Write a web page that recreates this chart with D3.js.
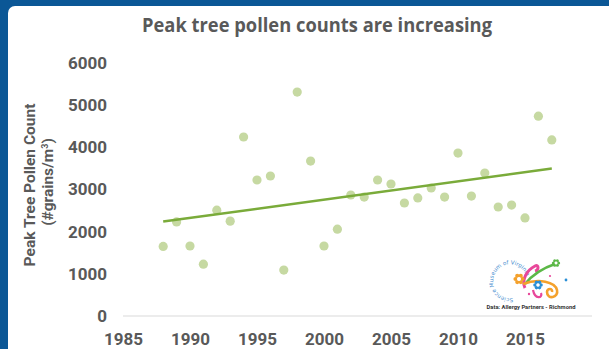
<!DOCTYPE html>
<html lang='en'>
	<head>
		<meta charset='utf-8'>
		<title>Peak tree pollen counts</title>
		<script type='text/javascript' src='https://cdn.jsdelivr.net/npm/d3@7'></script>
		<style>
			body { margin:0; background:#0b5796; overflow:hidden; }
		</style>
	</head>
	<body>
	</body>
	<script type='text/javascript'>
	// data
	var years = [1988,1989,1990,1991,1992,1993,1994,1995,1996,1997,1998,1999,2000,2001,2002,
				 2003,2004,2005,2006,2007,2008,2009,2010,2011,2012,2013,2014,2015,2016,2017];
	var pollen = [1650,2230,1660,1230,2510,2250,4245,3225,3320,1090,5310,3675,1660,2060,2870,
				  2820,3225,3130,2680,2800,3035,2820,3865,2845,3390,2585,2630,2325,4740,4175];
	var x_ticks = [1985,1990,1995,2000,2005,2010,2015];
	var y_ticks = [0,1000,2000,3000,4000,5000,6000];
	var title = 'Peak tree pollen counts are increasing';
	var y_title = 'Peak Tree Pollen Count';
	var source = 'Data: Allergy Partners - Richmond';
	var logo_name = 'Science Museum of Virginia';

	{
		var width = 609, height = 349;
		var svg = d3.select('body').append('svg').attr('width', width).attr('height', height)

		// blue frame + white panel
		svg.append('rect').attr('width', width).attr('height', height).attr('fill', '#0b5796')
		svg.append('rect').attr('x', 8).attr('y', 6).attr('width', width+20).attr('height', height+20)
			.attr('rx', 7).attr('fill', '#ffffff')

		var scale_x = d3.scaleLinear().domain([1985, 2020]).range([123, 592]);
		var scale_y = d3.scaleLinear().domain([0, 6000]).range([316, 63]);

		var grey = '#595959';

		svg.append('text').attr('x', 317).attr('y', 32).attr('text-anchor', 'middle')
			.attr('font-family', 'Open Sans').attr('font-weight', 700).attr('font-size', '20px')
			.attr('fill', grey).attr('textLength', 350).attr('lengthAdjust', 'spacingAndGlyphs')
			.text(title)

		// baseline
		svg.append('line').attr('x1', scale_x(1985)).attr('x2', scale_x(2020))
			.attr('y1', scale_y(0)).attr('y2', scale_y(0))
			.attr('stroke', '#d9d9d9').attr('stroke-width', 1)

		// y axis (labels only)
		var ay = svg.append('g').attr('transform', 'translate(107,0)')
			.call(d3.axisLeft(scale_y).tickValues(y_ticks).tickSize(0).tickPadding(0).tickFormat(d3.format('d')))
		ay.select('.domain').remove()
		ay.selectAll('text').attr('font-family', 'Roboto').attr('font-weight', 'bold')
			.attr('font-size', '17px').attr('fill', grey)

		// x axis (labels only)
		var ax = svg.append('g').attr('transform', 'translate(0,' + scale_y(0) + ')')
			.call(d3.axisBottom(scale_x).tickValues(x_ticks).tickSize(0).tickPadding(17).tickFormat(d3.format('d')))
		ax.select('.domain').remove()
		ax.selectAll('text').attr('font-family', 'Roboto').attr('font-weight', 'bold')
			.attr('font-size', '17px').attr('fill', grey)

		// y title
		svg.append('text').attr('transform', 'translate(35,185) rotate(-90)').attr('text-anchor', 'middle')
			.attr('font-family', 'Roboto').attr('font-weight', 'bold').attr('font-size', '15.5px').attr('fill', grey)
			.text(y_title)
		var t2 = svg.append('text').attr('transform', 'translate(53,182) rotate(-90)').attr('text-anchor', 'middle')
			.attr('font-family', 'Roboto').attr('font-weight', 'bold').attr('font-size', '15.5px').attr('fill', grey)
		t2.append('tspan').text('(#grains/m')
		t2.append('tspan').attr('baseline-shift', 'super').attr('font-size', '9px').text('3')
		t2.append('tspan').text(')')

		// points
		var pts = years.map(function(y, i) { return {year:y, value:pollen[i]}; });
		svg.selectAll('circle.pt').data(pts).enter().append('circle').attr('class', 'pt')
			.attr('cx', d => scale_x(d.year)).attr('cy', d => scale_y(d.value))
			.attr('r', 4.6).attr('fill', '#c6d9a2')

		// linear trendline (least squares)
		var mx = d3.mean(years), my = d3.mean(pollen);
		var sxy = d3.sum(years, (y, i) => (y - mx) * (pollen[i] - my));
		var sxx = d3.sum(years, y => (y - mx) * (y - mx));
		var slope = sxy / sxx, icpt = my - slope * mx;
		var ends = [d3.min(years), d3.max(years)];
		svg.append('path').datum(ends)
			.attr('d', d3.line().x(d => scale_x(d)).y(d => scale_y(icpt + slope * d)))
			.attr('stroke', '#7aab3a').attr('stroke-width', 2.5).attr('fill', 'none')

		// logo (rough sketch)
		var logo = svg.append('g').attr('transform', 'translate(509,280)')
		logo.append('path').attr('id', 'arc').attr('fill', 'none')
			.attr('d', 'M 4,18 A 17,17 0 1 1 17,-5')
		logo.append('text').attr('font-family', 'DejaVu Sans').attr('font-size', '5.6px').attr('fill', '#4a8fd0')
			.append('textPath').attr('href', '#arc').text(logo_name)
		logo.append('path').attr('d', 'M 16,8 C 12,0 18,-10 26,-14 C 30,-16 30,-10 26,-9')
			.attr('stroke', '#e8479a').attr('stroke-width', 3).attr('fill', 'none')
		logo.append('path').attr('d', 'M 16,4 C 24,-6 34,-12 46,-16')
			.attr('stroke', '#5cb847').attr('stroke-width', 2.6).attr('fill', 'none')
		logo.append('path').attr('d', 'M 14,4 C 30,-2 46,2 48,10 C 50,18 38,20 38,12 C 38,8 44,8 43,12')
			.attr('stroke', '#f4a12c').attr('stroke-width', 2.6).attr('fill', 'none')
		logo.append('path').attr('d', 'M 24,10 C 26,20 34,18 32,13')
			.attr('stroke', '#e8479a').attr('stroke-width', 2.2).attr('fill', 'none')
		// flowers
		var flower = function(cx, cy, r, col) {
			var g = logo.append('g').attr('transform', 'translate(' + cx + ',' + cy + ')')
			d3.range(6).forEach(function(k) {
				var a = k * Math.PI / 3;
				g.append('circle').attr('cx', r * Math.cos(a)).attr('cy', r * Math.sin(a)).attr('r', r * 0.6).attr('fill', col)
			})
			g.append('circle').attr('r', r * 0.55).attr('fill', '#ffffff')
		}
		flower(10, -1, 3.5, '#f4a12c')
		flower(29, 5, 3, '#2a8fd6')
		flower(47, -17, 2.6, '#5cb847')
		logo.append('circle').attr('cx', 57).attr('cy', 0).attr('r', 1.4).attr('fill', '#2a8fd6')
		logo.append('circle').attr('cx', 20).attr('cy', 14).attr('r', 1.2).attr('fill', '#e8479a')
		logo.append('circle').attr('cx', 41).attr('cy', -4).attr('r', 1.1).attr('fill', '#e8479a')
		svg.append('text').attr('x', 531).attr('y', 309).attr('text-anchor', 'middle')
			.attr('font-family', 'Roboto').attr('font-weight', 'bold').attr('font-size', '5.8px').attr('fill', '#333')
			.text(source)
	}
	</script>
</html>
